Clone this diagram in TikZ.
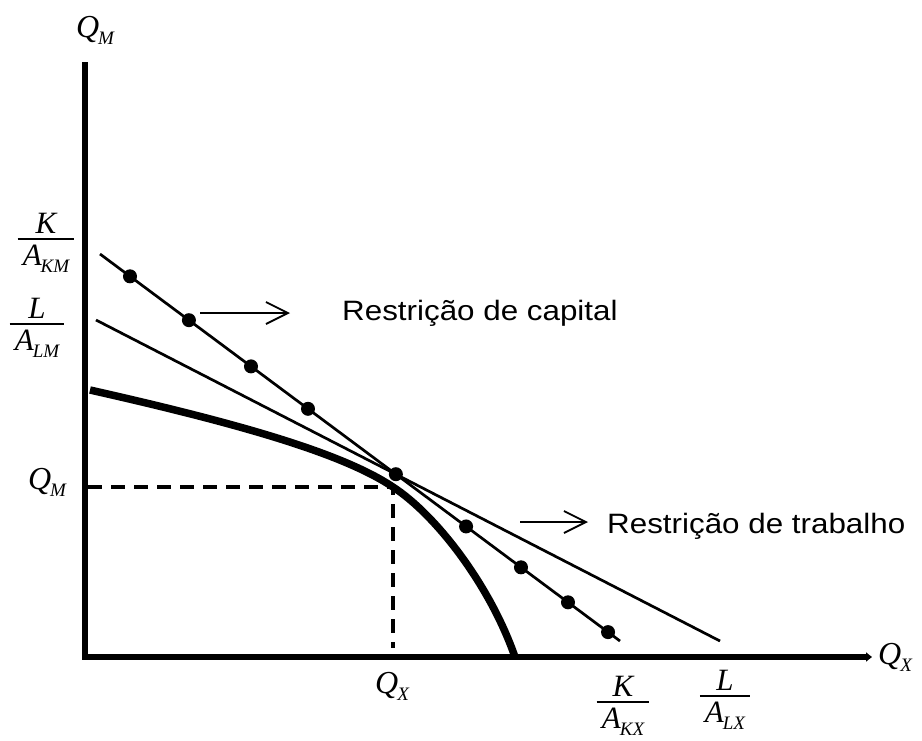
\documentclass[tikz,border=0pt]{standalone}
\usepackage{fontspec}
\setmainfont{Liberation Sans}
\newfontfamily\tnr{Liberation Serif}
\usetikzlibrary{arrows.meta}
\setlength{\arrayrulewidth}{2pt}
\newcommand{\qsub}[2]{{\tnr\itshape\fontsize{32}{32}\selectfont #1\kern-1pt\raisebox{-7pt}{\fontsize{19}{19}\selectfont #2}}}
\newcommand{\fracl}[3]{{\tnr\itshape\fontsize{31}{31}\selectfont
  \begin{tabular}{@{\,}c@{\,}}#1\\[-4pt]\hline\rule{0pt}{25pt}#2\kern-1pt\raisebox{-7pt}{\fontsize{19}{19}\selectfont #3}\end{tabular}}}
\newcommand{\rtext}[1]{\scalebox{1.12}[1]{\fontsize{28}{28}\selectfont #1}}
\begin{document}
\begin{tikzpicture}[x=1pt,y=-1pt,
  axis/.style={line width=5.5pt},
  thinline/.style={line width=2.7pt},
  ppf/.style={line width=7.5pt},
  guide/.style={line width=3.2pt,dash pattern=on 14pt off 9pt},
  dot/.style={circle,fill=black,inner sep=0pt,minimum size=14pt},
  pointer/.style={line width=1.8pt,-{Straight Barb[length=22pt,width=22pt]}},
  lab/.style={inner sep=0pt},
]
\useasboundingbox (0,0) rectangle (922,740);

% axes
\coordinate (ytop) at (85,62);
\coordinate (ybot) at (85,659.5);
\coordinate (xstart) at (82.5,657);
\coordinate (xend) at (872,657);
\draw[axis] (ytop) -- (ybot);
\draw[axis,-{Triangle[length=6pt,width=9pt]}] (xstart) -- (xend);

% labour constraint
\coordinate (l0) at (96,320);
\coordinate (l1) at (720,641);
\draw[thinline] (l0) -- (l1);

% capital constraint with dots
\coordinate (c0) at (100,254);
\coordinate (c1) at (620,641);
\draw[thinline] (c0) -- (c1)
  \foreach \p/\n in {0.0577/d1,0.171/d2,0.2904/d3,0.4/d4,0.569/d5,0.704/d6,0.8096/d7,0.9/d8,0.977/d9} {
    node[dot,pos=\p] (\n) {}
  };

% production possibility frontier
\coordinate (f0) at (90,390);
\coordinate (Q) at (393,487);
\coordinate (f1) at (515,657);
\draw[ppf] (f0) .. controls (250,426) and (345,455) .. (Q)
           .. controls (436,515) and (490,585) .. (f1);

% dashed guides
\coordinate (gl) at (88,487);
\coordinate (gb) at (393,648);
\draw[guide] (gl) -- (Q) -- (gb);

% pointers and texts
\coordinate (pa0) at (200,313);
\coordinate (pa1) at (290,313);
\draw[pointer] (pa0) -- (pa1);
\node[lab,anchor=base west] (capt) at (342,320) {\rtext{Restrição de capital}};

\coordinate (pb0) at (520,522);
\coordinate (pb1) at (588,522);
\draw[pointer] (pb0) -- (pb1);
\node[lab,anchor=base west] (labt) at (607,533) {\rtext{Restrição de trabalho}};

% axis labels
\node[lab] (qmtop) at (95,30) {\qsub{Q}{M}};
\node[lab,anchor=west] (qxright) at (878,657) {\qsub{Q}{X}};
\node[lab] (qmleft) at (47,482) {\qsub{Q}{M}};
\node[lab] (qxbot) at (392,686) {\qsub{Q}{X}};

% fraction labels
\node[lab] (kakm) at (46,243) {\fracl{K}{A}{KM}};
\node[lab] (lalm) at (37,328) {\fracl{L}{A}{LM}};
\node[lab] (kakx) at (623,706) {\fracl{K}{A}{KX}};
\node[lab] (lalx) at (725,700) {\fracl{L}{A}{LX}};
\end{tikzpicture}
\end{document}
